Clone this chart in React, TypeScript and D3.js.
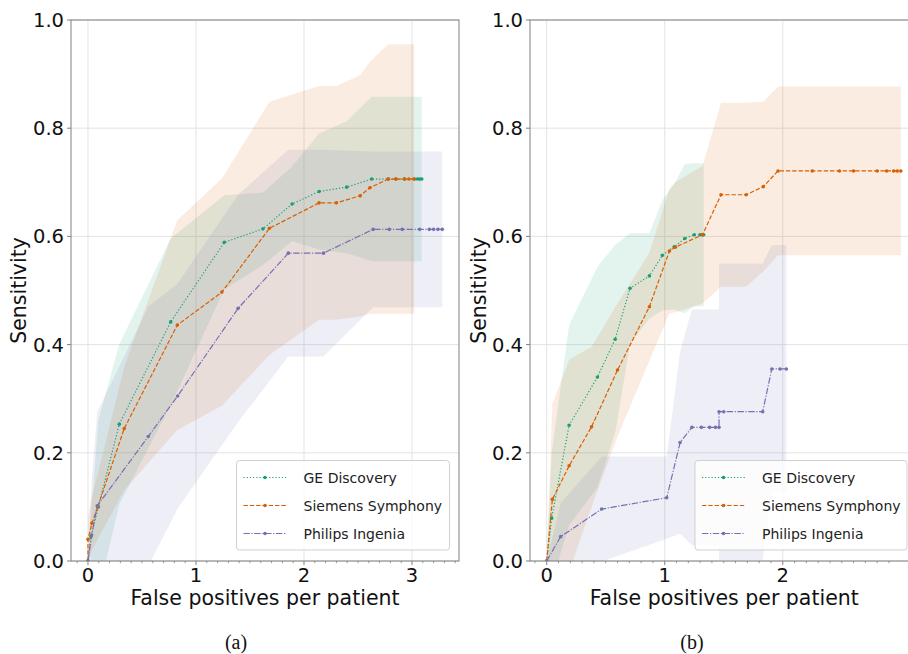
import React from 'react';
import * as d3 from 'd3';

// ---- panel (a) ----
const geAx = [0, 0.028, 0.096, 0.29, 0.766, 1.262, 1.62, 1.89, 2.14, 2.395, 2.627, 2.78, 2.85, 2.93, 3.02, 3.05, 3.07, 3.09];
const geAy = [0, 0.045, 0.1, 0.253, 0.442, 0.589, 0.614, 0.66, 0.683, 0.691, 0.706, 0.706, 0.706, 0.706, 0.706, 0.706, 0.706, 0.706];
const geAsd = [0, 0.04, 0.16, 0.148, 0.154, 0.087, 0.067, 0.069, 0.107, 0.122, 0.152, 0.152, 0.152, 0.152, 0.152, 0.152, 0.152, 0.152];

const siAx = [0, 0, 0.037, 0.09, 0.336, 0.827, 1.24, 1.68, 2.14, 2.3, 2.52, 2.61, 2.78, 2.85, 2.93, 2.97, 3.02];
const siAy = [0, 0.04, 0.07, 0.1, 0.245, 0.436, 0.497, 0.615, 0.662, 0.662, 0.675, 0.69, 0.706, 0.706, 0.706, 0.706, 0.706];
const siAsd = [0, 0.04, 0.05, 0.06, 0.114, 0.194, 0.21, 0.234, 0.216, 0.216, 0.223, 0.233, 0.249, 0.249, 0.249, 0.249, 0.249];

const phAx = [0, 0.034, 0.086, 0.558, 0.83, 1.39, 1.855, 2.18, 2.64, 2.79, 2.91, 3.07, 3.16, 3.2, 3.24, 3.28];
const phAy = [0, 0.048, 0.102, 0.23, 0.305, 0.467, 0.569, 0.569, 0.613, 0.613, 0.613, 0.613, 0.613, 0.613, 0.613, 0.613];
const phAsd = [0, 0.1, 0.174, 0.24, 0.208, 0.21, 0.191, 0.191, 0.144, 0.144, 0.144, 0.144, 0.144, 0.144, 0.144, 0.144];

// ---- panel (b) ----
const geBx = [0, 0.042, 0.19, 0.43, 0.58, 0.706, 0.87, 0.98, 1.08, 1.17, 1.25, 1.3, 1.32, 1.33];
const geBy = [0, 0.079, 0.251, 0.34, 0.41, 0.504, 0.527, 0.565, 0.581, 0.596, 0.603, 0.603, 0.603, 0.603];
const geBsd = [0, 0.12, 0.185, 0.204, 0.174, 0.102, 0.079, 0.102, 0.116, 0.138, 0.132, 0.132, 0.132, 0.132];

const siBx = [0, 0.048, 0.19, 0.38, 0.6, 0.87, 1.04, 1.09, 1.32, 1.477, 1.69, 1.835, 1.96, 2.25, 2.48, 2.6, 2.8, 2.88, 2.94, 2.97, 3.0];
const siBy = [0, 0.114, 0.176, 0.248, 0.353, 0.47, 0.573, 0.58, 0.603, 0.677, 0.677, 0.692, 0.721, 0.721, 0.721, 0.721, 0.721, 0.721, 0.721, 0.721, 0.721];
const siBsd = [0, 0.176, 0.196, 0.148, 0.123, 0.1, 0.115, 0.12, 0.127, 0.17, 0.17, 0.157, 0.156, 0.156, 0.156, 0.156, 0.156, 0.156, 0.156, 0.156, 0.156];

const phBx = [0, 0.118, 0.466, 1.017, 1.13, 1.23, 1.31, 1.38, 1.43, 1.46, 1.46, 1.5, 1.83, 1.907, 1.977, 2.03];
const phBy = [0, 0.045, 0.096, 0.117, 0.219, 0.247, 0.247, 0.247, 0.247, 0.247, 0.276, 0.276, 0.276, 0.355, 0.355, 0.355];
const phBsd = [0, 0.062, 0.097, 0.076, 0.168, 0.218, 0.218, 0.218, 0.218, 0.218, 0.274, 0.274, 0.274, 0.229, 0.229, 0.229];

const names = ['GE Discovery', 'Siemens Symphony', 'Philips Ingenia'];
const colors = ['#1b9e77', '#d95f02', '#7570b3'];
const dashes = ['1.2,2', '4.4,1.9', '6.4,1.6,1.2,1.6'];
const yTicks = [0, 0.2, 0.4, 0.6, 0.8, 1.0];

const panels = [
  {
    id: 'a', left: 71, right: 459, domain: [-0.157, 3.435], xTicks: [0, 1, 2, 3], caption: '(a)', capX: 236,
    series: [[geAx, geAy, geAsd], [siAx, siAy, siAsd], [phAx, phAy, phAsd]],
    legendX: 236.5, legendW: 213, yLabelX: 26,
  },
  {
    id: 'b', left: 530, right: 918.5, domain: [-0.1415, 3.15], xTicks: [0, 1, 2], caption: '(b)', capX: 692,
    series: [[geBx, geBy, geBsd], [siBx, siBy, siBsd], [phBx, phBy, phBsd]],
    legendX: 695, legendW: 212, yLabelX: 486,
  },
];

const TOP = 20;
const BOTTOM = 561;
const font = 'DejaVu Sans, sans-serif';

const Panel: React.FC<{ p: typeof panels[0] }> = ({ p }) => {
  const x = d3.scaleLinear().domain(p.domain).range([p.left, p.right]);
  const y = d3.scaleLinear().domain([0, 1]).range([BOTTOM, TOP]);
  const minor = d3.range(Math.ceil(p.domain[0] * 10), Math.floor(p.domain[1] * 10) + 1)
    .map(v => v / 10)
    .filter(v => Math.abs(v - Math.round(v)) > 1e-6);
  const clip = `clip-${p.id}`;

  return (
    <g>
      <defs>
        <clipPath id={clip}>
          <rect x={p.left} y={TOP} width={p.right - p.left} height={BOTTOM - TOP} />
        </clipPath>
      </defs>
      {/* grid */}
      {p.xTicks.map(t => (
        <line key={'gx' + t} x1={x(t)} x2={x(t)} y1={TOP} y2={BOTTOM} stroke="#e3e3e3" strokeWidth={1} />
      ))}
      {yTicks.map(t => (
        <line key={'gy' + t} x1={p.left} x2={p.right} y1={y(t)} y2={y(t)} stroke="#e3e3e3" strokeWidth={1} />
      ))}
      <g clipPath={`url(#${clip})`}>
        {p.series.map(([xs, ys, sd], i) => {
          const idx = d3.range(xs.length);
          const area = d3.area<number>()
            .x(k => x(xs[k]))
            .y0(k => y(ys[k] - sd[k]))
            .y1(k => y(ys[k] + sd[k]));
          return <path key={'band' + i} d={area(idx) || ''} fill={colors[i]} fillOpacity={0.12} />;
        })}
        {p.series.map(([xs, ys], i) => {
          const idx = d3.range(xs.length);
          const line = d3.line<number>().x(k => x(xs[k])).y(k => y(ys[k]));
          return (
            <g key={'line' + i}>
              <path d={line(idx) || ''} fill="none" stroke={colors[i]} strokeWidth={1.2} strokeDasharray={dashes[i]} />
              {idx.map(k => (
                <circle key={k} cx={x(xs[k])} cy={y(ys[k])} r={1.8} fill={colors[i]} />
              ))}
            </g>
          );
        })}
      </g>
      {/* spines */}
      <rect x={p.left} y={TOP} width={p.right - p.left} height={BOTTOM - TOP} fill="none" stroke="#808080" strokeWidth={1} />
      {/* x ticks */}
      {p.xTicks.map(t => (
        <g key={'xt' + t}>
          <line x1={x(t)} x2={x(t)} y1={BOTTOM} y2={BOTTOM + 4} stroke="#808080" strokeWidth={1} />
          <text x={x(t)} y={582} textAnchor="middle" fontFamily={font} fontSize={19.5} fill="#111">{t}</text>
        </g>
      ))}
      {minor.map(t => (
        <line key={'mt' + t} x1={x(t)} x2={x(t)} y1={BOTTOM} y2={BOTTOM + 2.2} stroke="#808080" strokeWidth={0.8} />
      ))}
      {yTicks.map(t => (
        <g key={'yt' + t}>
          <line x1={p.left - 4} x2={p.left} y1={y(t)} y2={y(t)} stroke="#808080" strokeWidth={1} />
          <text x={p.left - 7} y={y(t)} dy="0.36em" textAnchor="end" fontFamily={font} fontSize={19.5} fill="#111">{t.toFixed(1)}</text>
        </g>
      ))}
      <text x={(p.left + p.right) / 2} y={605} textAnchor="middle" fontFamily={font} fontSize={20.5} fill="#111">False positives per patient</text>
      <text transform={`translate(${p.yLabelX},${(TOP + BOTTOM) / 2}) rotate(-90)`} textAnchor="middle" fontFamily={font} fontSize={20.5} fill="#111">Sensitivity</text>
      {/* legend */}
      <g>
        <rect x={p.legendX} y={460.5} width={p.legendW} height={89.5} rx={3} fill="#fff" fillOpacity={0.8} stroke="#d0d0d0" strokeWidth={1} />
        {names.map((n, i) => {
          const ly = 477.5 + i * 28;
          const lx = p.legendX + 7;
          return (
            <g key={n}>
              <line x1={lx} x2={lx + 43} y1={ly} y2={ly} stroke={colors[i]} strokeWidth={1.2} strokeDasharray={dashes[i]} />
              <circle cx={lx + 21.5} cy={ly} r={1.8} fill={colors[i]} />
              <text x={lx + 60} y={ly} dy="0.36em" fontFamily={font} fontSize={14} fill="#222">{n}</text>
            </g>
          );
        })}
      </g>
      <text x={p.capX} y={649} textAnchor="middle" fontFamily="Liberation Serif, serif" fontSize={20} fill="#111">{p.caption}</text>
    </g>
  );
};

export default function App() {
  return (
    <div style={{ position: 'absolute', left: 0, top: 0 }}>
      <svg width={908} height={654} style={{ display: 'block', background: '#fff' }}>
        {panels.map(p => <Panel key={p.id} p={p} />)}
      </svg>
    </div>
  );
}
